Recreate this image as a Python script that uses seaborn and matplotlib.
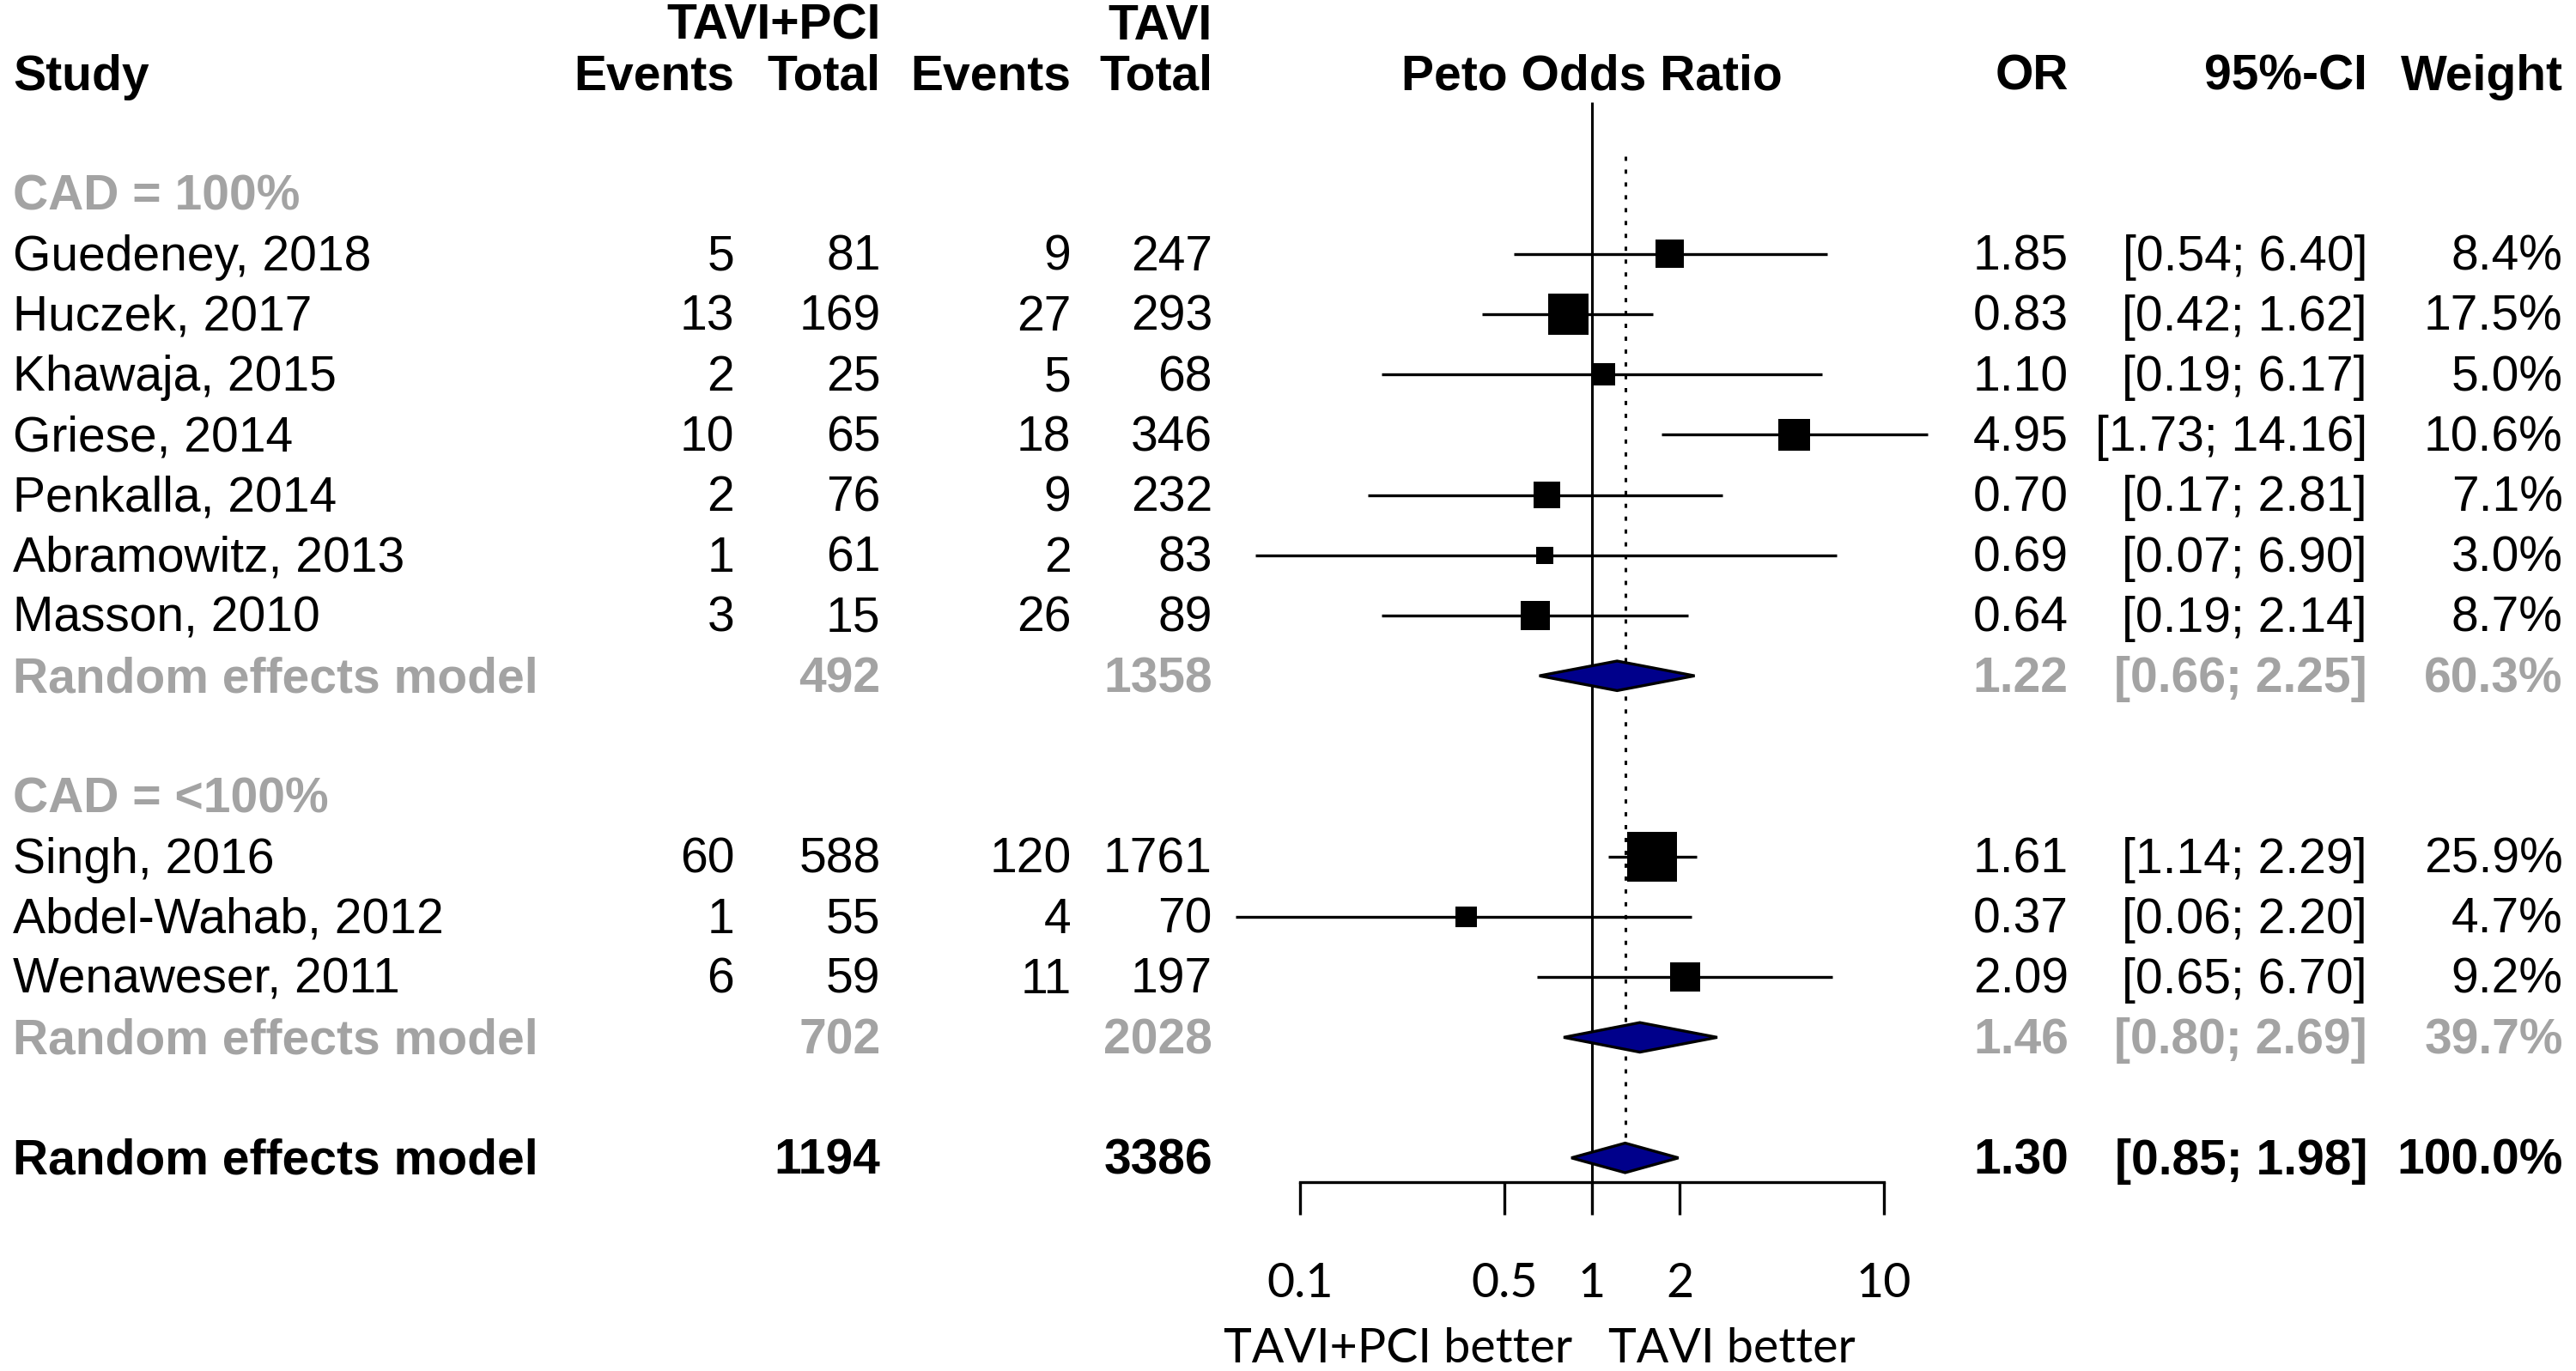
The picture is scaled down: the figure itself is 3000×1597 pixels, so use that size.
#!/usr/bin/env python3
# -*- coding: utf-8 -*-

"""
Forest plot: TAVI+PCI vs TAVI, Peto odds ratios by CAD subgroup.
"""

import matplotlib
matplotlib.use("Agg")
import matplotlib.pyplot as plt
from matplotlib.ticker import NullLocator
import pandas as pd
import seaborn as sns

# ---- data ---------------------------------------------------------------
groups = ["CAD = 100%", "CAD = <100%"]
study = ["Guedeney, 2018", "Huczek, 2017", "Khawaja, 2015", "Griese, 2014",
         "Penkalla, 2014", "Abramowitz, 2013", "Masson, 2010",
         "Singh, 2016", "Abdel-Wahab, 2012", "Wenaweser, 2011"]
group = [0, 0, 0, 0, 0, 0, 0, 1, 1, 1]
ev_pci = [5, 13, 2, 10, 2, 1, 3, 60, 1, 6]
n_pci = [81, 169, 25, 65, 76, 61, 15, 588, 55, 59]
ev_tavi = [9, 27, 5, 18, 9, 2, 26, 120, 4, 11]
n_tavi = [247, 293, 68, 346, 232, 83, 89, 1761, 70, 197]
odds = [1.85, 0.83, 1.10, 4.95, 0.70, 0.69, 0.64, 1.61, 0.37, 2.09]
ci_lo = [0.54, 0.42, 0.19, 1.73, 0.17, 0.07, 0.19, 1.14, 0.06, 0.65]
ci_hi = [6.40, 1.62, 6.17, 14.16, 2.81, 6.90, 2.14, 2.29, 2.20, 6.70]
weight = [8.4, 17.5, 5.0, 10.6, 7.1, 3.0, 8.7, 25.9, 4.7, 9.2]

sub_n_pci = [492, 702]
sub_n_tavi = [1358, 2028]
sub_or = [1.22, 1.46]
sub_lo = [0.66, 0.80]
sub_hi = [2.25, 2.69]
sub_w = [60.3, 39.7]

all_n_pci = 1194
all_n_tavi = 3386
all_or = 1.30
all_lo = 0.85
all_hi = 1.98
all_w = 100.0

tick_vals = [0.1, 0.5, 1, 2, 10]
tick_labels = ["0.1", "0.5", "1", "2", "10"]

# ---- layout (units = 1568 x 835 grid) ------------------------------------
W, H = 1568, 835
ROW0, STEP = 118, 36.7
X_ONE, PX_DEC = 969, 177.5
AX_Y = 720
GREY = "#a3a3a3"
FS = 20.5
DY = 2  # text baseline nudge

sns.set_theme(style="white")
plt.rcParams["font.family"] = ["Liberation Sans", "DejaVu Sans"]

# row positions
df = pd.DataFrame(dict(study=study, group=group, ev_pci=ev_pci, n_pci=n_pci,
                       ev_tavi=ev_tavi, n_tavi=n_tavi, odds=odds, lo=ci_lo,
                       hi=ci_hi, weight=weight))
sub = pd.DataFrame(dict(label=groups, n_pci=sub_n_pci, n_tavi=sub_n_tavi,
                        odds=sub_or, lo=sub_lo, hi=sub_hi, weight=sub_w))
df["row"] = 0
r = 0
head_rows, sub_rows = [], []
for g in range(len(groups)):
    head_rows.append(r)
    r += 1
    for i in df.index[df.group == g]:
        df.loc[i, "row"] = r
        r += 1
    sub_rows.append(r)
    r += 2
all_row = r
df["y"] = ROW0 + STEP * df["row"]
sub["y"] = [ROW0 + STEP * k for k in sub_rows]
y_all = ROW0 + STEP * all_row

fig = plt.figure(figsize=(15, 7.985), dpi=200, facecolor="white")

# forest panel
fax = fig.add_axes([0, 1 - AX_Y / H, 1, AX_Y / H])
fax.patch.set_alpha(0)
fax.set_xscale("log")
fax.set_xlim(10 ** (-X_ONE / PX_DEC), 10 ** ((W - X_ONE) / PX_DEC))
fax.set_ylim(AX_Y, 0)

fax.vlines(1, 62, AX_Y, color="black", lw=1.1, zorder=1)
fax.vlines(all_or, 95, y_all, color="black", lw=1.1,
           linestyles=(0, (1.6, 3.3)), zorder=1)

fax.hlines(df["y"], df["lo"], df["hi"], color="black", lw=1.2, zorder=2)
k = 16.9  # marker area (pt^2) per % weight
sns.scatterplot(data=df, x="odds", y="y", size="weight",
                sizes=(k * df.weight.min(), k * df.weight.max()),
                size_norm=(df.weight.min(), df.weight.max()),
                marker="s", color="black", linewidth=0, legend=False,
                ax=fax, zorder=3)

dh = 9
for lo, est, hi, y in list(zip(sub["lo"], sub["odds"], sub["hi"], sub["y"])) + \
        [(all_lo, all_or, all_hi, y_all)]:
    fax.fill([lo, est, hi, est], [y, y - dh, y, y + dh], facecolor="#00008b",
             edgecolor="black", lw=1.2, zorder=4)

for side in ["left", "right", "top"]:
    fax.spines[side].set_visible(False)
fax.spines["bottom"].set_bounds(0.1, 10)
fax.spines["bottom"].set_color("black")
fax.spines["bottom"].set_linewidth(1.2)
fax.set_xticks(tick_vals)
fax.set_xticklabels(tick_labels)
fax.xaxis.set_minor_locator(NullLocator())
fax.set_yticks([])
fax.set_xlabel("")
fax.set_ylabel("")
fax.tick_params(axis="x", bottom=True, direction="out", length=13.8,
                width=1.2, color="black", pad=19.5, labelsize=20,
                labelcolor="black")
for lab in fax.get_xticklabels():
    lab.set_fontfamily(["Lato", "DejaVu Sans"])

# text panel
tax = fig.add_axes([0, 0, 1, 1])
tax.patch.set_alpha(0)
tax.set_xlim(0, W)
tax.set_ylim(H, 0)
tax.axis("off")

X_STUDY, X_EV1, X_TOT1, X_EV2, X_TOT2 = 8, 447, 536, 652, 738
X_OR, X_CI, X_W = 1259, 1441, 1560


def txt(x, y, s, ha="right", color="black", bold=False):
    tax.text(x, y + DY, s, ha=ha, va="center", fontsize=FS, color=color,
             fontweight="bold" if bold else "normal")


# header
txt(X_TOT1, 14, "TAVI+PCI", bold=True)
txt(X_TOT2, 14, "TAVI", bold=True)
txt(X_STUDY, 45, "Study", ha="left", bold=True)
txt(X_EV1, 45, "Events", bold=True)
txt(X_TOT1, 45, "Total", bold=True)
txt(X_EV2, 45, "Events", bold=True)
txt(X_TOT2, 45, "Total", bold=True)
txt(X_ONE, 45, "Peto Odds Ratio", ha="center", bold=True)
txt(X_OR, 45, "OR", bold=True)
txt(X_CI, 45, "95%-CI", bold=True)
txt(X_W, 45, "Weight", bold=True)

for g, hr in enumerate(head_rows):
    txt(X_STUDY, ROW0 + STEP * hr, groups[g], ha="left", color=GREY, bold=True)

for _, row in df.iterrows():
    y = row["y"]
    txt(X_STUDY, y, row["study"], ha="left")
    txt(X_EV1, y, f"{row['ev_pci']}")
    txt(X_TOT1, y, f"{row['n_pci']}")
    txt(X_EV2, y, f"{row['ev_tavi']}")
    txt(X_TOT2, y, f"{row['n_tavi']}")
    txt(X_OR, y, f"{row['odds']:.2f}")
    txt(X_CI, y, f"[{row['lo']:.2f}; {row['hi']:.2f}]")
    txt(X_W, y, f"{row['weight']:.1f}%")

for _, row in sub.iterrows():
    y = row["y"]
    txt(X_STUDY, y, "Random effects model", ha="left", color=GREY, bold=True)
    txt(X_TOT1, y, f"{row['n_pci']}", color=GREY, bold=True)
    txt(X_TOT2, y, f"{row['n_tavi']}", color=GREY, bold=True)
    txt(X_OR, y, f"{row['odds']:.2f}", color=GREY, bold=True)
    txt(X_CI, y, f"[{row['lo']:.2f}; {row['hi']:.2f}]", color=GREY, bold=True)
    txt(X_W, y, f"{row['weight']:.1f}%", color=GREY, bold=True)

txt(X_STUDY, y_all, "Random effects model", ha="left", bold=True)
txt(X_TOT1, y_all, f"{all_n_pci}", bold=True)
txt(X_TOT2, y_all, f"{all_n_tavi}", bold=True)
txt(X_OR, y_all, f"{all_or:.2f}", bold=True)
txt(X_CI, y_all, f"[{all_lo:.2f}; {all_hi:.2f}]", bold=True)
txt(X_W, y_all, f"{all_w:.1f}%", bold=True)

tax.text(X_ONE - 12, 830, "TAVI+PCI better", ha="right", va="baseline",
         fontsize=20, family=["Lato", "DejaVu Sans"], color="black")
tax.text(X_ONE + 10, 830, "TAVI better", ha="left", va="baseline",
         fontsize=20, family=["Lato", "DejaVu Sans"], color="black")

fig.savefig("out.png", dpi=200, facecolor="white")
